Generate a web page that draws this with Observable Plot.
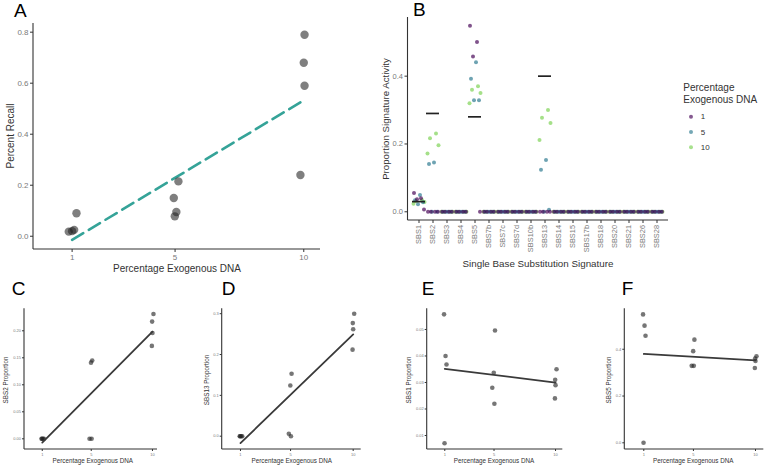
<!DOCTYPE html>
<html><head><meta charset="utf-8">
<script src="https://cdn.jsdelivr.net/npm/d3@7"></script>
<script src="https://cdn.jsdelivr.net/npm/@observablehq/plot@0.6"></script>
<style>
html,body{margin:0;padding:0;background:#fff;}
#root{position:relative;width:768px;height:468px;overflow:hidden;background:#fff;}
#root svg [aria-label="x-axis tick label"], #root svg [aria-label="y-axis tick label"]{fill:#7a7a7a;}
</style></head>
<body><div id="root"></div>
<script>
// ---------- data ----------
const dnaLevels = [1, 5, 10];
const dnaPct = [1, 1, 1, 1, 5, 5, 5, 5, 10, 10, 10, 10];
const pctTicks = [1, 5, 10];

// Panel A: percent recall per sample
const recall = [0.018, 0.020, 0.025, 0.090, 0.078, 0.095, 0.150, 0.215, 0.240, 0.590, 0.680, 0.790];

// Panel B: signatures and activity per sample (order = dnaPct)
const signatures = ["SBS1","SBS2","SBS3","SBS4","SBS5","SBS7b","SBS7c","SBS7d","SBS10b","SBS13","SBS14","SBS15","SBS17b","SBS18","SBS20","SBS21","SBS26","SBS28"];
const sbs1 = [0.0557, 0.0400, 0.0368, 0.0071, 0.0496, 0.0337, 0.0280, 0.0220, 0.0350, 0.0310, 0.0290, 0.0240];
const sbs2 = [0, 0, 0, 0, 0.145, 0.141, 0, 0, 0.231, 0.217, 0.196, 0.172];
const sbs5 = [0.549, 0.501, 0.458, 0, 0.441, 0.392, 0.329, 0.329, 0.370, 0.360, 0.350, 0.320];
const sbs13 = [0, 0, 0, 0, 0.153, 0.124, 0.006, 0, 0.300, 0.277, 0.262, 0.212];
const trueSignatures = ["SBS1", "SBS2", "SBS5", "SBS13"];
const trueActivity = [0.030, 0.290, 0.280, 0.400];

// tick values
const ticksA = [0, 0.2, 0.4, 0.6, 0.8];
const ticksB = [0, 0.2, 0.4];
const ticksC = [0, 0.05, 0.10, 0.15, 0.20];
const ticksD = [0, 0.1, 0.2, 0.3];
const ticksE = [0.01, 0.02, 0.03, 0.04, 0.05];
const ticksF = [0, 0.2, 0.4];

// ---------- style / layout ----------
const FONT = '"Liberation Sans", Arial, sans-serif';
const groupColors = ["#440154", "#2A788E", "#7AD151"];
const jitterA = [-0.13, 0.0, 0.08, 0.17, -0.01, 0.05, -0.05, 0.13, -0.13, 0.03, 0.0, 0.03];
const jitterSmall = [-0.06, 0.06, 0.14, -0.02, 0.08, -0.02, -0.14, 0.03, 0.08, -0.03, 0.0, -0.05];
const jitterBpx = [-5, 2, -2, 5, 1, -4, 4, -1, 3, -3, 5.5, -5.5];

const root = document.getElementById("root");

function place(box, frame, opts, fontSize) {
  const [sx, sy, sw, sh] = box;
  const [x0, x1, y0, y1] = frame;
  const ml = x0 - sx, mr = sx + sw - x1, mt = y0 - sy, mb = sy + sh - y1;
  const p = Plot.plot({
    width: sw, height: sh,
    marginLeft: ml, marginRight: mr, marginTop: mt, marginBottom: mb,
    style: {background: "none", fontFamily: FONT, fontSize: fontSize + "px", color: "#333", overflow: "visible", maxWidth: "none"},
    ...opts
  });
  p.style.position = "absolute";
  p.style.left = sx + "px";
  p.style.top = sy + "px";
  const s = d3.select(p);
  s.append("line").attr("x1", ml).attr("x2", ml).attr("y1", mt).attr("y2", sh - mb)
    .attr("stroke", "#333").attr("stroke-width", 1.1);
  s.append("line").attr("x1", ml).attr("x2", sw - mr).attr("y1", sh - mb).attr("y2", sh - mb)
    .attr("stroke", "#333").attr("stroke-width", 1.1);
  root.appendChild(p);
  return p;
}

// ---------- Panel A ----------
const dataA = recall.map((v, i) => ({pct: dnaPct[i], recall: v, j: jitterA[i]}));
place([0, 0, 330, 280], [33, 320, 23, 249], {
  x: {domain: [-0.5, 10.65]},
  y: {domain: [-0.052, 0.834]},
  marks: [
    Plot.axisX(pctTicks, {tickSize: 3, tickPadding: 2, label: null}),
    Plot.axisY(ticksA, {tickSize: 3, tickPadding: 2, tickFormat: ".1f", label: null}),
    Plot.linearRegressionY(dataA, {x: "pct", y: "recall", ci: 0, stroke: "#35a398", strokeWidth: 2.6, strokeDasharray: "13,6.5"}),
    Plot.dot(dataA, {x: d => d.pct + d.j, y: "recall", r: 4.2, fill: "#222", fillOpacity: 0.58, stroke: "none"})
  ]
}, 8);

// ---------- Panel B ----------
const valueMap = {SBS1: sbs1, SBS2: sbs2, SBS5: sbs5, SBS13: sbs13};
const rowsB = [];
signatures.forEach(s => {
  const vals = valueMap[s] || dnaPct.map(() => 0);
  vals.forEach((v, k) => rowsB.push({sig: s, pct: dnaPct[k], value: v, k}));
});
const trueRows = trueSignatures.map((s, i) => ({sig: s, value: trueActivity[i]}));
// draw the 10% group first and the 1% group last
const drawOrder = d3.range(12).reverse();
const dotMarksB = drawOrder.map(k =>
  Plot.dot(rowsB.filter(r => r.k === k), {x: "sig", y: "value", fill: "pct", r: 2, fillOpacity: 0.68, stroke: "none", dx: jitterBpx[k]}));
place([370, 0, 300, 275], [407.5, 668, 17, 220], {
  x: {type: "band", domain: signatures, paddingInner: 0.08, paddingOuter: 0.14, align: 0.5},
  y: {domain: [-0.0257, 0.573]},
  color: {type: "ordinal", domain: dnaLevels, range: groupColors},
  marks: [
    Plot.axisX({tickSize: 3, tickPadding: 1.5, tickRotate: -90, label: null, fontSize: 7.4}),
    Plot.axisY(ticksB, {tickSize: 3, tickPadding: 2, tickFormat: ".1f", label: null}),
    ...dotMarksB,
    Plot.tickY(trueRows, {x: "sig", y: "value", stroke: "#222", strokeWidth: 1.7})
  ]
}, 7.5);

// ---------- Panels C-F ----------
function smallPanel(values, ticks, fmt, box, frame, xDom, yDom) {
  const data = values.map((v, i) => ({pct: dnaPct[i], value: v, j: jitterSmall[i]}));
  place(box, frame, {
    x: {domain: xDom},
    y: {domain: yDom},
    marks: [
      Plot.axisX(pctTicks, {tickSize: 2, tickPadding: 1.5, label: null}),
      Plot.axisY(ticks, {tickSize: 2, tickPadding: 1.5, tickFormat: fmt, label: null}),
      Plot.dot(data, {x: d => d.pct + d.j, y: "value", r: 2.3, fill: "#222", fillOpacity: 0.62, stroke: "none"}),
      Plot.linearRegressionY(data, {x: "pct", y: "value", ci: 0, stroke: "#3a3a3a", strokeWidth: 1.8})
    ]
  }, 4);
}
smallPanel(sbs2, ticksC, ".2f", [0, 300, 190, 168], [24, 157, 308.3, 449], [-0.45, 10.41], [-0.0198, 0.2407]);
smallPanel(sbs13, ticksD, ".1f", [195, 300, 190, 168], [221.7, 360.7, 308.3, 449], [-0.46, 10.64], [-0.0326, 0.312]);
smallPanel(sbs1, ticksE, ".2f", [390, 300, 190, 168], [426.7, 562.3, 308.3, 449], [-0.43, 10.59], [0.00472, 0.0578]);
smallPanel(sbs5, ticksF, ".1f", [585, 300, 183, 168], [624.3, 763.3, 308.3, 449], [-0.53, 10.67], [-0.0286, 0.573]);

// ---------- titles, letters, legend ----------
const ov = d3.select(root).append("svg")
  .attr("width", 768).attr("height", 468)
  .style("position", "absolute").style("left", "0px").style("top", "0px")
  .style("font-family", FONT);
function label(str, x, y, size, opt = {}) {
  const t = ov.append("text").text(str)
    .attr("font-size", size)
    .attr("fill", opt.fill || "#333")
    .attr("text-anchor", opt.anchor || "middle")
    .attr("dominant-baseline", opt.baseline || "central");
  if (opt.rotate) t.attr("transform", `translate(${x},${y}) rotate(-90)`);
  else t.attr("x", x).attr("y", y);
  return t;
}
// panel letters
[["A", 14, 17], ["B", 413, 15.5], ["C", 11.7, 295], ["D", 221.7, 295], ["E", 421.7, 295], ["F", 621.7, 295]]
  .forEach(([s, x, y]) => label(s, x, y, 19, {fill: "#000", anchor: "start", baseline: "alphabetic"}));
// axis titles
label("Percentage Exogenous DNA", 177, 268, 10);
label("Percent Recall", 10, 136, 10, {rotate: true});
label("Single Base Substitution Signature", 538, 263.5, 9.8);
label("Proportion Signature Activity", 385, 119, 9.7, {rotate: true});
const smallYTitles = ["SBS2 Proportion", "SBS13 Proportion", "SBS1 Proportion", "SBS5 Proportion"];
const smallYx = [5, 206.7, 408.3, 608.3];
const smallXx = [92.7, 291.7, 494, 693.3];
smallYTitles.forEach((s, i) => {
  label(s, smallYx[i], 380, 6.3, {rotate: true});
  label("Percentage Exogenous DNA", smallXx[i], 460.7, 6.3);
});
// legend
label("Percentage", 683.3, 91, 10, {anchor: "start", baseline: "alphabetic"});
label("Exogenous DNA", 683.3, 102.5, 10, {anchor: "start", baseline: "alphabetic"});
dnaLevels.forEach((lv, i) => {
  const y = 116.7 + i * 15.3;
  ov.append("circle").attr("cx", 691).attr("cy", y).attr("r", 2).attr("fill", groupColors[i]).attr("fill-opacity", 0.65);
  label(String(lv), 700.7, y, 8, {anchor: "start"});
});
</script>
</body></html>
